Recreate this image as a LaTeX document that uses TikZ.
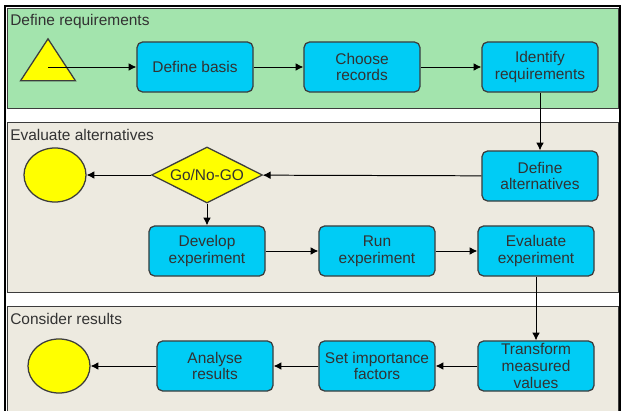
\documentclass[tikz,border=0pt]{standalone}
\usepackage{fontspec}
\setmainfont{Liberation Sans}
\usepackage{tikz}
\usetikzlibrary{arrows.meta}
\usetikzlibrary{shapes.geometric}
\tikzset{>={Latex[length=5.5pt, width=5.5pt]}}
\definecolor{lanegreen}{RGB}{163, 228, 173}
\definecolor{lanegrey}{RGB}{237, 234, 224}
\definecolor{taskblue}{RGB}{0, 204, 245}
\definecolor{eventyellow}{RGB}{255, 255, 0}
\definecolor{labelgrey}{RGB}{50, 50, 50}
\definecolor{framegrey}{RGB}{60, 60, 60}
\tikzset{
	task/.style={draw=framegrey, fill=taskblue, rounded corners=4pt, line width=0.9pt, minimum width=2.9cm, minimum height=1.25cm, align=center, inner sep=1pt, text=labelgrey, font=\fontsize{11}{12}\selectfont},
	endevent/.style={ellipse, draw=framegrey, fill=eventyellow, line width=0.9pt, minimum width=1.55cm, minimum height=1.35cm},
	startevent/.style={isosceles triangle, shape border rotate=90, isosceles triangle stretches, draw=framegrey, fill=eventyellow, line width=0.9pt, minimum width=1.375cm, minimum height=1.05cm, inner sep=0pt},
	decision/.style={diamond, shape aspect=2, draw=framegrey, fill=eventyellow, line width=0.9pt, minimum width=2.775cm, minimum height=1.4cm, inner sep=0pt, text=labelgrey, font=\fontsize{11}{12}\selectfont},
	lane/.style={draw=framegrey, line width=0.6pt},
	lanetitle/.style={anchor=west, inner sep=0pt, text=labelgrey, font=\fontsize{11}{12}\selectfont},
	flow/.style={->, line width=0.7pt}
}
\begin{document}
\begin{tikzpicture}[x=0.025cm, y=-0.025cm]
	\clip (0,0) rectangle (622,411);
	\fill[white] (0,0) rectangle (622,411);
	% lanes
	\draw[lane, fill=lanegreen] (7,8) rectangle (618,108);
	\draw[lane, fill=lanegrey] (7,122) rectangle (618,292);
	\draw[lane, fill=lanegrey] (7,306) rectangle (618,430);
	\draw[line width=1.4pt] (5,6) rectangle (620,430);
	\node[lanetitle] (ttlreq) at (10,22) {Define requirements};
	\node[lanetitle] (ttlalt) at (10,135) {Evaluate alternatives};
	\node[lanetitle] (ttlres) at (10,319) {Consider results};

	% define requirements
	\node[startevent] (start) at (48,66) {};
	\node[task] (basis) at (195,67) {Define basis};
	\node[task] (records) at (362,67) {Choose\\records};
	\node[task] (ident) at (540,67) {Identify\\requirements};

	% evaluate alternatives
	\node[task] (alts) at (540,176) {Define\\alternatives};
	\node[decision] (gonogo) at (207,175) {Go/No-GO};
	\node[endevent] (stopalt) at (55,175) {};
	\node[task] (develop) at (207,251) {Develop\\experiment};
	\node[task] (run) at (377,251) {Run\\experiment};
	\node[task] (evalexp) at (536,251) {Evaluate\\experiment};

	% consider results
	\node[task] (transf) at (536,366) {Transform\\measured\\values};
	\node[task] (setimp) at (377,366) {Set importance\\factors};
	\node[task] (analyse) at (215,366) {Analyse\\results};
	\node[endevent] (stopres) at (59,366) {};

	% flows
	\draw[flow] (start.center |- basis) -- (basis);
	\draw[flow] (basis) -- (records);
	\draw[flow] (records) -- (ident);
	\draw[flow] (ident) -- (alts);
	\draw[flow] (alts) -- (gonogo);
	\draw[flow] (gonogo) -- (stopalt);
	\draw[flow] (gonogo) -- (develop);
	\draw[flow] (develop) -- (run);
	\draw[flow] (run) -- (evalexp);
	\draw[flow] (evalexp) -- (transf);
	\draw[flow] (transf) -- (setimp);
	\draw[flow] (setimp) -- (analyse);
	\draw[flow] (analyse) -- (stopres);
\end{tikzpicture}
\end{document}
